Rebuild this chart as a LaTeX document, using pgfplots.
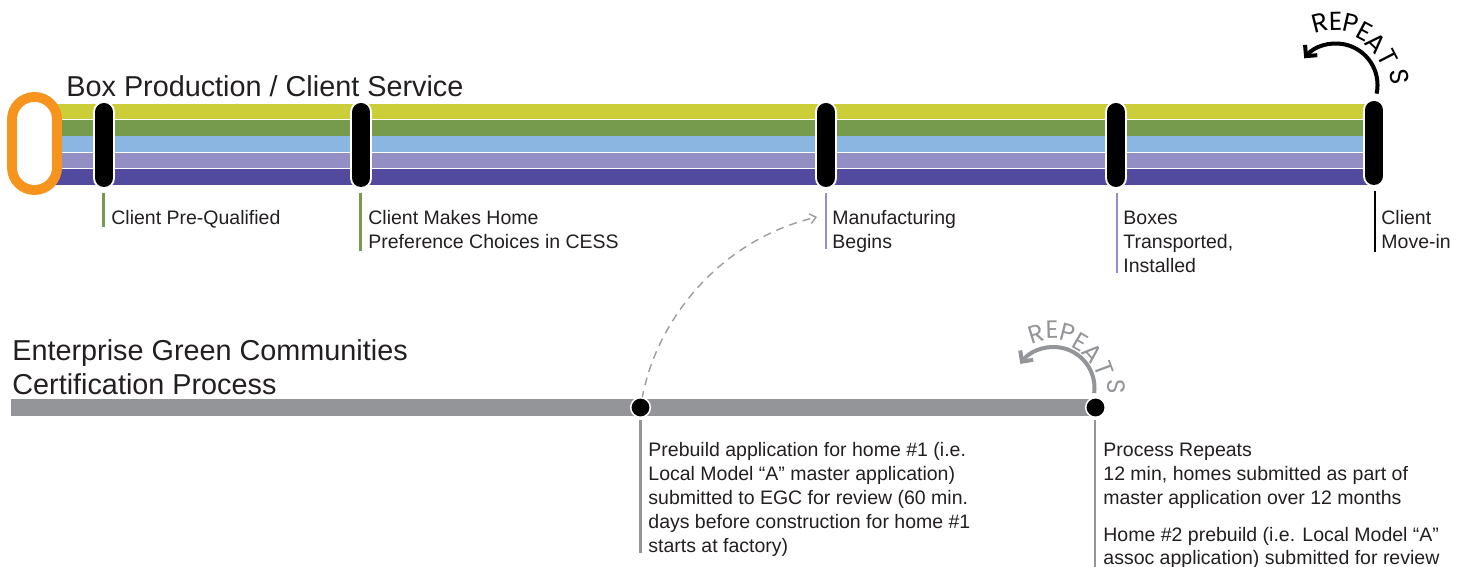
\documentclass[border=0pt]{standalone}
\usepackage{pgfplots}
\pgfplotsset{compat=1.18}
\usepackage{fontspec}
\setmainfont{Liberation Sans}
\newfontfamily\repfont{Poppins}
\usetikzlibrary{arrows.meta}
\definecolor{cA}{HTML}{CBCE38}
\definecolor{cB}{HTML}{769B4D}
\definecolor{cC}{HTML}{8BB6E1}
\definecolor{cD}{HTML}{938FC5}
\definecolor{cE}{HTML}{524A9E}
\definecolor{cOr}{HTML}{F7941D}
\definecolor{cGr}{HTML}{939598}
\definecolor{cDash}{HTML}{9C9C9C}
\definecolor{cTx}{HTML}{231F20}
\newcommand\lab[3]{\node[anchor=base west, inner sep=0pt, text=cTx, font=\fontsize{9.75bp}{11.7bp}\selectfont] at (axis cs:#1,#2) {#3};}
\newcommand\ttl[3]{\node[anchor=base west, inner sep=0pt, text=cTx, font=\fontsize{14.4bp}{17bp}\selectfont] at (axis cs:#1,#2) {#3};}
% rotated letter: x, y, rotation, letter
\newcommand\rlA[4]{\node[anchor=center, inner sep=0pt, text height=9.1bp, text depth=0pt, rotate=#3, text=black, font=\repfont\fontsize{13bp}{13bp}\selectfont] at (axis cs:#1,#2) {#4};}
\newcommand\rlB[4]{\node[anchor=center, inner sep=0pt, text height=8.8bp, text depth=0pt, rotate=#3, text=cGr, font=\repfont\fontsize{12.5bp}{12.5bp}\selectfont] at (axis cs:#1,#2) {#4};}
\begin{document}
\begin{tikzpicture}
\begin{axis}[name=ax, width=734bp, height=283.5bp, scale only axis,
  xmin=0, xmax=1468, ymin=-567, ymax=0, hide axis, clip=false]
% stripes
\addplot[draw=cA, line width=7.8bp] coordinates {(50,-111.5) (1372,-111.5)};
\addplot[draw=cB, line width=7.8bp] coordinates {(50,-127.8) (1372,-127.8)};
\addplot[draw=cC, line width=7.8bp] coordinates {(50,-144.2) (1372,-144.2)};
\addplot[draw=cD, line width=7.8bp] coordinates {(50,-160.5) (1372,-160.5)};
\addplot[draw=cE, line width=7.8bp] coordinates {(50,-176.9) (1372,-176.9)};
% orange ring
\addplot[draw=cOr, line width=27.5bp, line cap=round] coordinates {(34.5,-119.5) (34.5,-167.5)};
\addplot[draw=white, line width=17.5bp, line cap=round] coordinates {(34.5,-119.5) (34.5,-167.5)};
% pills
\addplot[draw=white, line width=11bp, line cap=round] coordinates {(104,-112) (104,-178)};
\addplot[draw=black, line width=9bp, line cap=round] coordinates {(104,-112) (104,-178)};
\addplot[draw=white, line width=11bp, line cap=round] coordinates {(361,-112) (361,-178)};
\addplot[draw=black, line width=9bp, line cap=round] coordinates {(361,-112) (361,-178)};
\addplot[draw=white, line width=11bp, line cap=round] coordinates {(826,-112) (826,-178)};
\addplot[draw=black, line width=9bp, line cap=round] coordinates {(826,-112) (826,-178)};
\addplot[draw=white, line width=11bp, line cap=round] coordinates {(1116,-112) (1116,-178)};
\addplot[draw=black, line width=9bp, line cap=round] coordinates {(1116,-112) (1116,-178)};
\addplot[draw=white, line width=11bp, line cap=round] coordinates {(1374,-110) (1374,-176)};
\addplot[draw=black, line width=9bp, line cap=round] coordinates {(1374,-110) (1374,-176)};
% leader lines top
\addplot[draw=cB, line width=1.25bp] coordinates {(103.5,-193) (103.5,-227)};
\addplot[draw=cB, line width=1.25bp] coordinates {(360.5,-193) (360.5,-251)};
\addplot[draw=cD, line width=1.25bp] coordinates {(826,-193) (826,-249)};
\addplot[draw=cD, line width=1.25bp] coordinates {(1117,-193) (1117,-273)};
\addplot[draw=black, line width=1.25bp] coordinates {(1375,-191) (1375,-252)};
% grey bar
\addplot[draw=cGr, line width=8.5bp] coordinates {(11,-407.5) (1095,-407.5)};
% leader lines bottom
\addplot[draw=cGr, line width=1.25bp] coordinates {(640.5,-420) (640.5,-553)};
\addplot[draw=cGr, line width=1.25bp] coordinates {(1095,-420) (1095,-567)};
% dots
\addplot[only marks, mark=*, mark size=4.9bp, mark options={fill=black, draw=white, line width=0.75bp}] coordinates {(640.5,-407.5) (1095.5,-407.5)};
\addplot[draw=white!80!black, line width=0.6bp] coordinates {(640.5,-410) (641.8,-400)};
% dashed curve
\draw[cDash, line width=0.7bp, dash pattern=on 4bp off 3bp, -{Straight Barb[length=3bp,width=5bp]}]
  (axis cs:642,-399) .. controls (axis cs:656,-320) and (axis cs:720,-240) .. (axis cs:817,-217);
% repeat arrows
\draw[black, line width=2bp, -{Straight Barb[length=4bp,width=8bp]}]
  (axis cs:1336,-85) ++(-12:20.75bp) arc[start angle=-12, end angle=140, radius=20.75bp];
\draw[cGr, line width=2bp, -{Straight Barb[length=4bp,width=8bp]}]
  (axis cs:1053.5,-388) ++(-7:20.5bp) arc[start angle=-7, end angle=144, radius=20.5bp];
% REPEATS letters (top)
\rlA{1320}{-23}{14}{R}
\rlA{1335.5}{-21.5}{1}{E}
\rlA{1350.5}{-23.5}{-13}{P}
\rlA{1364.5}{-31.5}{-28}{E}
\rlA{1376.5}{-43}{-44}{A}
\rlA{1388}{-58}{-62.6}{T}
\rlA{1400}{-76.5}{-82.4}{S}
% REPEATS letters (bottom, grey)
\rlB{1036}{-333.5}{17}{R}
\rlB{1052}{-330}{1.5}{E}
\rlB{1067.5}{-333}{-14.3}{P}
\rlB{1080}{-342}{-30}{E}
\rlB{1093}{-353}{-48.5}{A}
\rlB{1104}{-369}{-69.4}{T}
\rlB{1116}{-387}{-89}{S}
% titles
\ttl{66}{-97}{Box Production / Client Service}
\ttl{12}{-361}{Enterprise Green Communities}
\ttl{12}{-395}{Certification Process}
% labels top
\lab{111}{-225}{Client Pre-Qualified}
\lab{368}{-225}{Client Makes Home}
\lab{368}{-249}{Preference Choices in CESS}
\lab{832}{-225}{Manufacturing}
\lab{832}{-249}{Begins}
\lab{1123}{-225}{Boxes}
\lab{1123}{-249}{Transported,}
\lab{1123}{-273}{Installed}
\lab{1381}{-225}{Client}
\lab{1381}{-249}{Move-in}
% labels bottom
\lab{648}{-456.5}{Prebuild application for home \#1 (i.e.}
\lab{648}{-480.5}{Local Model “A” master application)}
\lab{648}{-504.5}{submitted to EGC for review (60 min.}
\lab{648}{-528.5}{days before construction for home \#1}
\lab{648}{-552.5}{starts at factory)}
\lab{1103}{-456.5}{Process Repeats}
\lab{1103}{-480.5}{12 min, homes submitted as part of}
\lab{1103}{-504.5}{master application over 12 months}
\lab{1103}{-541}{Home \#2 prebuild (i.e. Local Model “A”}
\lab{1103}{-564}{assoc application) submitted for review}
\end{axis}
\pgfresetboundingbox
\path[use as bounding box] (ax.south west) rectangle (ax.north east);
\end{tikzpicture}
\end{document}
